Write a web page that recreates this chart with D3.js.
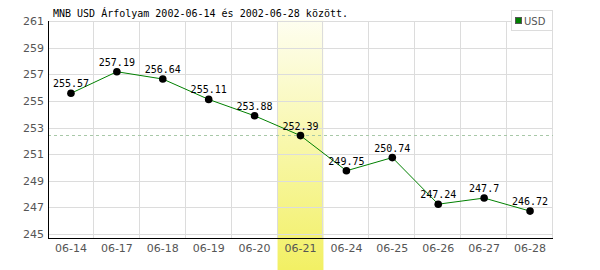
<!DOCTYPE html>
<html>
<head>
<meta charset="utf-8">
<script src="https://cdn.jsdelivr.net/npm/d3@7"></script>
<style>
  body { margin: 0; background: #fff; }
  svg { display: block; }
</style>
</head>
<body>
<div id="chart"></div>
<script>
const W = 600, H = 270;
const dates = ['06-14', '06-17', '06-18', '06-19', '06-20', '06-21', '06-24', '06-25', '06-26', '06-27', '06-28'];
const rates = [255.57, 257.19, 256.64, 255.11, 253.88, 252.39, 249.75, 250.74, 247.24, 247.7, 246.72];
const yTicks = [245, 247, 249, 251, 253, 255, 257, 259, 261];
const highlight = '06-21';
const refLine = 252.45;
const title = 'MNB USD Árfolyam 2002-06-14 és 2002-06-28 között.';

const pLeft = 48, pRight = 553, pTop = 21, pBottom = 238;

const svg = d3.select('#chart').append('svg')
  .attr('width', W)
  .attr('height', H);

const x = d3.scaleBand().domain(dates).range([pLeft, pRight]);
const y = d3.scaleLinear().domain([245, 261]).range([234, pTop]);

const grad = svg.append('defs').append('linearGradient')
  .attr('id', 'hl').attr('x1', 0).attr('y1', 0).attr('x2', 0).attr('y2', 1);
grad.append('stop').attr('offset', '0%').attr('stop-color', '#fefef0');
grad.append('stop').attr('offset', '100%').attr('stop-color', '#f2f064');

// highlighted day
svg.append('rect')
  .attr('x', x(highlight))
  .attr('y', pTop - 1)
  .attr('width', x.bandwidth())
  .attr('height', H - pTop + 1)
  .attr('fill', 'url(#hl)');

// grid
svg.append('g')
  .selectAll('line')
  .data(yTicks)
  .enter().append('line')
  .attr('x1', pLeft).attr('x2', pRight)
  .attr('y1', d => Math.round(y(d)) + 0.5).attr('y2', d => Math.round(y(d)) + 0.5)
  .attr('stroke', '#dcdcdc');

svg.append('g')
  .selectAll('line')
  .data(dates.slice(1).concat(['end']))
  .enter().append('line')
  .attr('x1', d => d === 'end' ? pRight - 0.5 : Math.round(x(d)) - 0.5)
  .attr('x2', d => d === 'end' ? pRight - 0.5 : Math.round(x(d)) - 0.5)
  .attr('y1', pTop).attr('y2', pBottom)
  .attr('stroke', '#dcdcdc');

// reference line
svg.append('line')
  .attr('x1', pLeft).attr('x2', pRight)
  .attr('y1', Math.round(y(refLine)) + 0.5).attr('y2', Math.round(y(refLine)) + 0.5)
  .attr('stroke', '#a8c8a8')
  .attr('stroke-dasharray', '3,3');

// axes
const yAxis = svg.append('g')
  .attr('transform', `translate(${pLeft},0)`)
  .call(d3.axisLeft(y).tickValues(yTicks).tickSize(0).tickPadding(4));
yAxis.select('.domain').remove();
yAxis.selectAll('text')
  .attr('fill', '#555')
  .style('font-family', 'DejaVu Sans')
  .style('font-size', '11px');

const xAxis = svg.append('g')
  .attr('transform', `translate(0,${pBottom})`)
  .call(d3.axisBottom(x).tickSize(0).tickPadding(6));
xAxis.select('.domain').remove();
xAxis.selectAll('text')
  .attr('fill', '#555')
  .style('font-family', 'DejaVu Sans')
  .style('font-size', '11px');

svg.append('line')
  .attr('x1', pLeft + 0.5).attr('x2', pLeft + 0.5)
  .attr('y1', pTop).attr('y2', pBottom + 1)
  .attr('stroke', '#000');
svg.append('line')
  .attr('x1', pLeft).attr('x2', pRight)
  .attr('y1', pBottom + 0.5).attr('y2', pBottom + 0.5)
  .attr('stroke', '#000');

// series
const cx = d => x(d) + x.bandwidth() / 2;
const line = d3.line()
  .x((d, i) => cx(dates[i]))
  .y(d => y(d));

svg.append('path')
  .datum(rates)
  .attr('d', line)
  .attr('fill', 'none')
  .attr('stroke', '#008000')
  .attr('stroke-width', 1);

svg.append('g')
  .selectAll('circle')
  .data(rates)
  .enter().append('circle')
  .attr('cx', (d, i) => cx(dates[i]))
  .attr('cy', d => y(d))
  .attr('r', 3.8)
  .attr('fill', '#000');

svg.append('g')
  .selectAll('text')
  .data(rates)
  .enter().append('text')
  .attr('x', (d, i) => cx(dates[i]))
  .attr('y', d => y(d) - 6)
  .attr('text-anchor', 'middle')
  .style('font-family', 'DejaVu Sans Mono')
  .style('font-size', '10px')
  .attr('fill', '#000')
  .text(d => d);

// title
svg.append('text')
  .attr('x', 53)
  .attr('y', 17)
  .style('font-family', 'DejaVu Sans Mono')
  .style('font-size', '10px')
  .attr('fill', '#000')
  .text(title);

// legend
const lg = svg.append('g').attr('transform', 'translate(511,10)');
lg.append('rect')
  .attr('x', 0.5).attr('y', 0.5)
  .attr('width', 41).attr('height', 20)
  .attr('fill', '#fff')
  .attr('stroke', '#dcdcdc');
lg.append('rect')
  .attr('x', 4.5).attr('y', 7.5)
  .attr('width', 6).attr('height', 6)
  .attr('fill', '#008000')
  .attr('stroke', '#555');
lg.append('text')
  .attr('x', 13).attr('y', 14.5)
  .style('font-family', 'DejaVu Sans')
  .style('font-size', '10px')
  .attr('fill', '#555')
  .text('USD');
</script>
</body>
</html>
